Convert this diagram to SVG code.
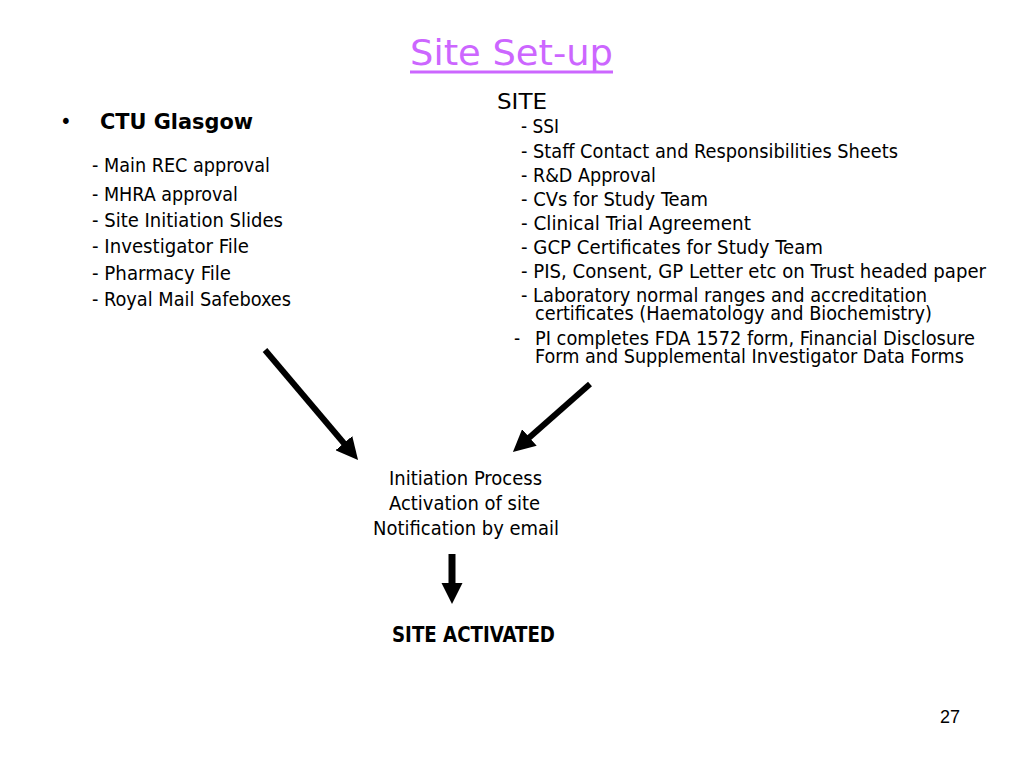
<svg xmlns="http://www.w3.org/2000/svg" width="1024" height="768" viewBox="0 0 1024 768">
<style>
text{font-family:"DejaVu Sans Condensed","DejaVu Sans",sans-serif;fill:#000}
.b{font-size:19px}
.h{font-size:22px}
.bold{font-weight:bold}
.title{font-size:36px;fill:#CC66FF}
.num{font-family:"Liberation Sans",Arial,sans-serif;font-size:18px}
.arr{stroke:#000;stroke-width:6;fill:none}
</style>
<defs>
<marker id="ah" markerUnits="userSpaceOnUse" markerWidth="22" markerHeight="22" refX="8" refY="11" orient="auto">
<path d="M0,0 L22,11 L0,22 z" fill="#000"/>
</marker>
<marker id="ah2" markerUnits="userSpaceOnUse" markerWidth="22" markerHeight="22" refX="8" refY="11" orient="auto">
<path d="M0,0.5 L21,11 L0,21.5 z" fill="#000"/>
</marker>
</defs>
<rect width="1024" height="768" fill="#fff"/>
<g id="title">
<text class="title" x="410" y="65" textLength="203" lengthAdjust="spacingAndGlyphs">Site Set-up</text>
<rect x="410" y="70.5" width="203" height="3" fill="#CC66FF"/>
</g>
<g id="ctu">
<text class="h" x="60" y="129">•</text>
<text class="h bold" x="100" y="129" textLength="153" lengthAdjust="spacingAndGlyphs">CTU Glasgow</text>
<text class="b" x="92" y="172" textLength="178" lengthAdjust="spacingAndGlyphs">- Main REC approval</text>
<text class="b" x="92" y="201" textLength="146" lengthAdjust="spacingAndGlyphs">- MHRA approval</text>
<text class="b" x="92" y="227" textLength="191" lengthAdjust="spacingAndGlyphs">- Site Initiation Slides</text>
<text class="b" x="92" y="253" textLength="157" lengthAdjust="spacingAndGlyphs">- Investigator File</text>
<text class="b" x="92" y="280" textLength="139" lengthAdjust="spacingAndGlyphs">- Pharmacy File</text>
<text class="b" x="92" y="306" textLength="199" lengthAdjust="spacingAndGlyphs">- Royal Mail Safeboxes</text>
</g>
<g id="site">
<text class="h" x="497" y="109" textLength="50" lengthAdjust="spacingAndGlyphs">SITE</text>
<text class="b" x="521" y="133" textLength="38" lengthAdjust="spacingAndGlyphs">- SSI</text>
<text class="b" x="521" y="158" textLength="377" lengthAdjust="spacingAndGlyphs">- Staff Contact and Responsibilities Sheets</text>
<text class="b" x="521" y="182" textLength="135" lengthAdjust="spacingAndGlyphs">- R&amp;D Approval</text>
<text class="b" x="521" y="206" textLength="187" lengthAdjust="spacingAndGlyphs">- CVs for Study Team</text>
<text class="b" x="521" y="230" textLength="230" lengthAdjust="spacingAndGlyphs">- Clinical Trial Agreement</text>
<text class="b" x="521" y="254" textLength="302" lengthAdjust="spacingAndGlyphs">- GCP Certificates for Study Team</text>
<text class="b" x="521" y="278" textLength="465" lengthAdjust="spacingAndGlyphs">- PIS, Consent, GP Letter etc on Trust headed paper</text>
<text class="b" x="521" y="302" textLength="406" lengthAdjust="spacingAndGlyphs">- Laboratory normal ranges and accreditation</text>
<text class="b" x="535" y="320" textLength="397" lengthAdjust="spacingAndGlyphs">certificates (Haematology and Biochemistry)</text>
<text class="b" x="514" y="345">-</text>
<text class="b" x="535" y="345" textLength="440" lengthAdjust="spacingAndGlyphs">PI completes FDA 1572 form, Financial Disclosure</text>
<text class="b" x="535" y="363" textLength="429" lengthAdjust="spacingAndGlyphs">Form and Supplemental Investigator Data Forms</text>
</g>
<g id="process">
<text class="b" x="389" y="485" textLength="153" lengthAdjust="spacingAndGlyphs">Initiation Process</text>
<text class="b" x="389" y="510" textLength="151" lengthAdjust="spacingAndGlyphs">Activation of site</text>
<text class="b" x="373" y="535" textLength="186" lengthAdjust="spacingAndGlyphs">Notification by email</text>
</g>
<g id="activated">
<text class="h bold" x="392" y="642" font-size="21" textLength="163" lengthAdjust="spacingAndGlyphs">SITE ACTIVATED</text>
</g>
<g id="connectors">
<line class="arr" x1="265" y1="350" x2="349" y2="449.3" marker-end="url(#ah)"/>
<line class="arr" x1="590" y1="384" x2="523.4" y2="442.7" marker-end="url(#ah)"/>
<line class="arr" x1="452" y1="554" x2="452" y2="591" style="stroke-width:7" marker-end="url(#ah2)"/>
</g>
<text class="num" x="940" y="723">27</text>
</svg>
